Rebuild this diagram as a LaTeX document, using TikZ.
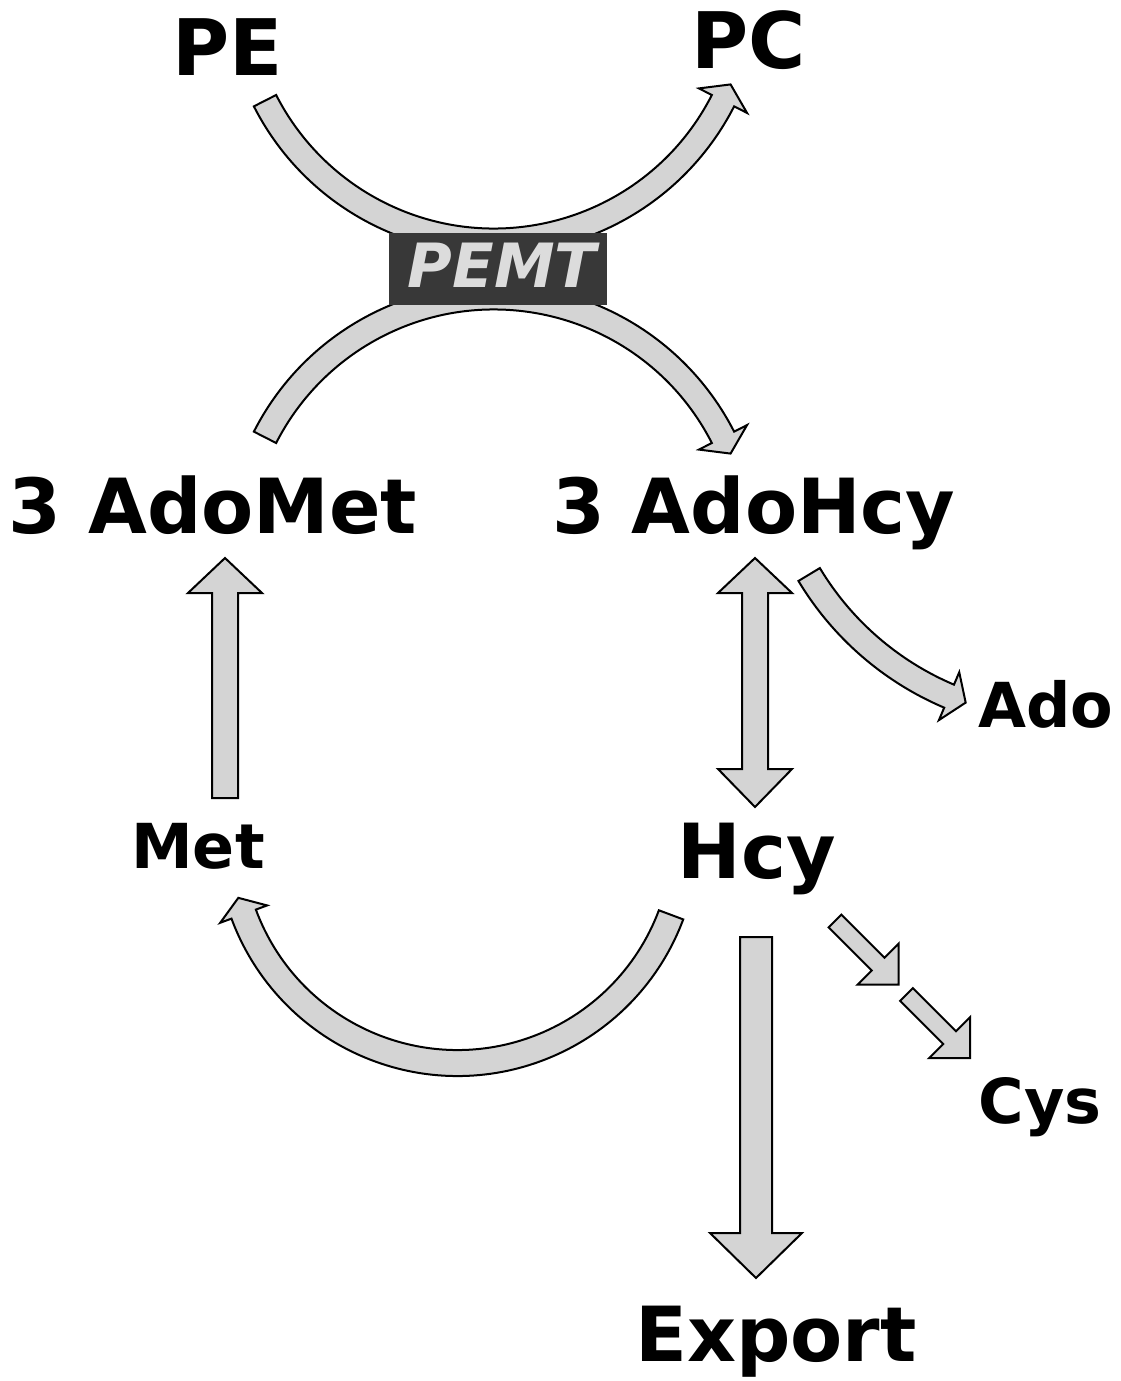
\documentclass[tikz,border=0pt]{standalone}
\usepackage{fontspec}
\setmainfont{DejaVu Sans}
\usetikzlibrary{calc}

\definecolor{arrowfill}{HTML}{D4D4D4}
\definecolor{enzymebox}{HTML}{383838}
\definecolor{enzymetext}{HTML}{DCDCDC}

\tikzset{
  blockarrow/.style={draw=black, fill=arrowfill, line width=2, line join=miter},
  biglabel/.style={font=\fontsize{76}{80}\selectfont\bfseries, inner sep=0, anchor=base},
  toplabel/.style={font=\fontsize{78}{82}\selectfont\bfseries, inner sep=0, anchor=base},
  smalllabel/.style={font=\fontsize{62}{66}\selectfont\bfseries, inner sep=0, anchor=base},
}

% curved block arrow on a circle:
% centre x, centre y, radius, half width, tail angle, head-base angle, tip angle, head half width
\newcommand\bentarrow[8]{%
  \begin{scope}[shift={(#1,#2)}]
    \draw[blockarrow] (#5:#3+#4) arc[start angle=#5, end angle=#6, radius=#3+#4]
      -- (#6:#3+#8) -- (#7:#3) -- (#6:#3-#8) -- (#6:#3-#4)
      arc[start angle=#6, end angle=#5, radius=#3-#4] -- cycle;
  \end{scope}}

% straight block arrow:
% tail x, tail y, direction, length, half width, head length, head half width
\newcommand\straightarrow[7]{%
  \begin{scope}[shift={(#1,#2)}, rotate=#3]
    \draw[blockarrow] (0,-#5) -- (#4-#6,-#5) -- (#4-#6,-#7) -- (#4,0)
      -- (#4-#6,#7) -- (#4-#6,#5) -- (0,#5) -- cycle;
  \end{scope}}

\begin{document}
\begin{tikzpicture}[x=1pt, y=-1pt]
  \useasboundingbox (0,0) rectangle (1120,1381);

  % metabolite labels
  \node[toplabel] (pe) at (228,75) {PE};
  \node[toplabel] (pc) at (749,68) {PC};
  \node[biglabel] (adomet) at (213,533) {3 AdoMet};
  \node[biglabel] (adohcy) at (754,533) {3 AdoHcy};
  \node[smalllabel] (ado) at (1046,727) {Ado};
  \node[smalllabel] (met) at (198,868) {Met};
  \node[biglabel] (hcy) at (757,878) {Hcy};
  \node[smalllabel] (cys) at (1040,1123) {Cys};
  \node[biglabel] (export) at (776,1361) {Export};

  % PE -> PC and AdoMet -> AdoHcy through the methyltransferase
  \bentarrow{494}{-16}{257}{12.5}{153}{27}{23}{27}
  \bentarrow{494}{554}{257}{12.5}{207}{333}{337}{27}

  % enzyme box
  \node[fill=enzymebox, minimum width=218pt, minimum height=72pt, inner sep=0]
    (pemtbox) at (498,269) {};
  \node[font=\fontsize{61}{64}\selectfont\bfseries\itshape, text=enzymetext,
    inner sep=0, anchor=base] (pemt) at (502,287) {PEMT};

  % AdoHcy <-> Hcy
  \draw[blockarrow] (755,558) -- (792,593) -- (768,593) -- (768,769) -- (792,769)
    -- (755,807) -- (718,769) -- (742,769) -- (742,593) -- (718,593) -- cycle;

  % AdoHcy -> Ado
  \bentarrow{1066.3}{420}{300}{12.5}{149}{113}{109.6}{26}

  % Met -> AdoMet
  \straightarrow{225}{798}{90}{240}{13}{35}{37}

  % Hcy -> Met (remethylation)
  \bentarrow{457.5}{835}{228}{13}{20.5}{159.7}{164}{25}

  % Hcy -> Export
  \straightarrow{756}{937}{-90}{341}{16}{45}{46}

  % Hcy -> -> Cys (transsulfuration)
  \straightarrow{835}{921}{-45}{90}{9}{29}{29}
  \straightarrow{906.5}{994.5}{-45}{90}{9}{29}{29}
\end{tikzpicture}
\end{document}
